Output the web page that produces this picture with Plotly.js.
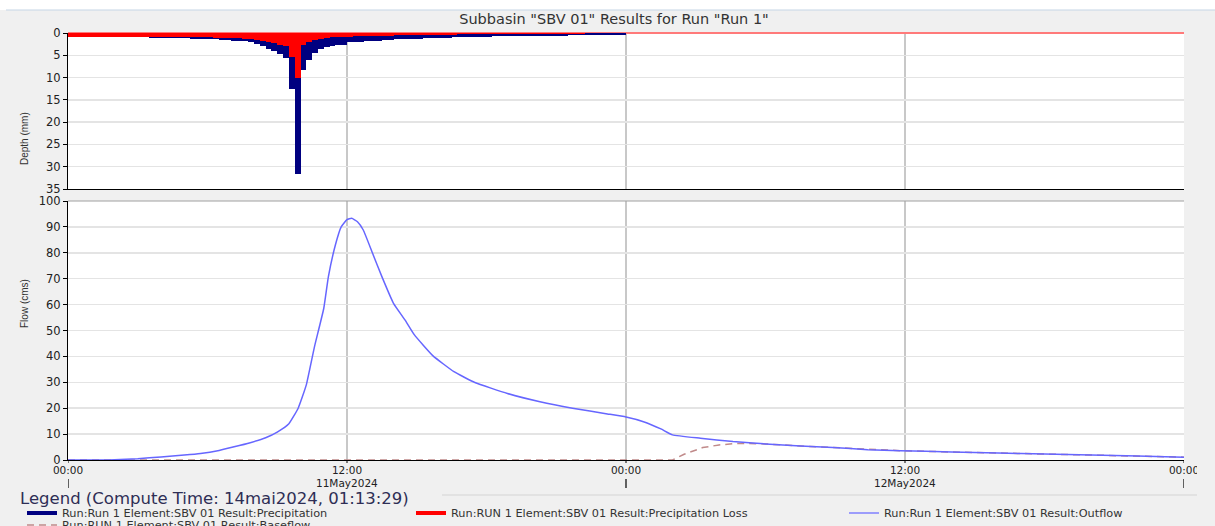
<!DOCTYPE html>
<html>
<head>
<meta charset="utf-8">
<script src="https://cdn.plot.ly/plotly-3.0.1.min.js"></script>
<style>
  html, body { margin: 0; padding: 0; background: #f0f0f0; }
  #chart { width: 1215px; height: 526px; }
</style>
</head>
<body>
<div id="chart"></div>
<script>
// ---------- DATA ----------
const chartTitle = 'Subbasin "SBV 01" Results for Run "Run 1"';
const startDate = [2024, 4, 11];      // 11 May 2024 00:00
const stepMinutes = 15;               // hyetograph interval

// Precipitation depth per 15-min interval (mm), 11May2024 00:00 -> 12May2024 00:00
const precipitation = [
  0.85,0.85,0.85,0.85,0.85,0.85,0.85,0.85,0.85,0.85,0.85,
  0.95,1.0,1.0,
  1.05,1.05,1.1,1.1,1.15,1.15,
  1.2,1.25,1.25,1.3,
  1.4,1.45,1.55,1.65,
  1.75,1.8,1.85,1.95,
  2.4,2.9,3.5,4.1,4.8,5.6,12.5,31.6,8.3,6.1,4.4,3.6,3.2,2.9,2.8,2.6,
  2.1,2.0,1.95,1.9,1.85,1.8,
  1.6,1.5,1.45,1.4,1.35,1.3,1.25,
  1.2,1.15,1.1,1.1,1.05,1.0,
  0.95,0.95,0.9,0.9,0.85,
  0.8,0.78,0.75,0.72,0.7,0.68,0.66,0.64,0.62,
  0.6,0.6,0.58,0.57,0.56,0.55,0.54,0.53,0.52,0.51,0.5,0.49,0.48,0.47,
  0.35
];

// Precipitation loss per 15-min interval (mm)
const precipitationLoss = [
  0.85,0.85,0.85,0.85,0.85,0.85,0.85,0.85,0.85,0.85,0.85,
  0.85,0.87,0.88,
  0.88,0.9,0.9,0.92,0.92,0.94,
  0.95,0.96,0.97,0.98,
  1.0,1.02,1.05,1.1,
  1.15,1.2,1.3,1.4,
  1.6,1.8,2.0,2.3,2.6,2.9,5.3,10.0,2.6,2.0,1.6,1.3,1.1,1.0,0.95,0.9,
  0.8,0.75,0.72,0.7,0.68,0.65,
  0.6,0.58,0.55,0.52,0.5,0.48,0.46,
  0.44,0.42,0.4,0.38,0.36,0.35,
  0.33,0.32,0.3,0.29,0.28,
  0.26,0.25,0.24,0.23,0.22,0.21,0.2,0.19,0.18,
  0.17,0.16,0.15,0.15,0.14,0.13,0.12,0.12,0.11,0.1,0.1,0.09,0.09,0.08,
  0.05
];

// Outflow (cms), time in hours since 11May2024 00:00
const outflowHours = [0,1.5,2,3,4,5,5.7,6.5,7.1,7.8,8.5,9.0,9.5,9.9,10.25,10.6,11.0,11.2,11.5,11.75,12.0,12.2,12.45,12.7,13.1,13.5,14.0,14.5,14.9,15.7,16.6,17.5,18.9,20.3,21.7,23.2,24.0,24.75,25.5,26.0,27.2,28.6,30.0,31.5,32.9,34.4,35.8,38,40,42,44,46,48];
const outflowValues = [0,0,0.1,0.5,1.2,1.9,2.5,3.7,5.0,6.6,8.6,10.8,14.0,20.0,29.0,43.7,58.5,70.8,83.0,90.0,92.8,93.3,92.0,88.8,79.8,70.8,60.5,54.0,48.3,40.2,34.1,29.9,25.7,22.5,20.0,17.8,16.6,14.8,12.0,9.7,8.4,7.1,6.2,5.4,4.8,4.0,3.6,3.1,2.7,2.3,1.9,1.5,1.1];

// Baseflow (cms)
const baseflowHours = [0,26.0,26.5,27.3,28.0,28.6,29.3,30.0,31.5,32.9,34.4,35.8,38,40,42,44,46,48];
const baseflowValues = [0,0,2.2,4.8,5.8,6.3,6.4,6.2,5.4,4.8,4.0,3.6,3.1,2.7,2.3,1.9,1.5,1.1];

// X axis ticks
const tickHours = [0, 12, 24, 36, 48];
const tickLabels = ['00:00', '12:00', '00:00', '12:00', '00:00'];
const dateLabelHours = [12, 36];
const dateLabels = ['11May2024', '12May2024'];
const dayBoundaryHours = [0, 24, 48];

const seriesNames = {
  precip: 'Run:Run 1 Element:SBV 01 Result:Precipitation',
  loss: 'Run:RUN 1 Element:SBV 01 Result:Precipitation Loss',
  outflow: 'Run:Run 1 Element:SBV 01 Result:Outflow',
  baseflow: 'Run:RUN 1 Element:SBV 01 Result:Baseflow'
};
const legendTitle = 'Legend (Compute Time: 14mai2024, 01:13:29)';

// ---------- HELPERS ----------
const baseMs = Date.UTC(startDate[0], startDate[1], startDate[2]);
function hToDate(h) {
  return new Date(baseMs + h * 3600000).toISOString().replace('T', ' ').slice(0, 19);
}
const stepH = stepMinutes / 60;
const barX = precipitation.map((_, k) => hToDate((k + 0.5) * stepH));
const barWidth = stepMinutes * 60000;

// pixel -> paper helpers (plot area 68..1184 x 33..460)
const L = 68, R = 1184, T = 33, B = 460;
const px = x => (x - L) / (R - L);
const py = y => (B - y) / (B - T);

const FONT = 'DejaVu Sans, Verdana, sans-serif';
const NAVY = '#000080', RED = '#ff0000', BLUE = '#6666ff', BROWN = '#c08a8a';

// ---------- TRACES ----------
const traces = [
  { type: 'bar', x: barX, y: precipitation, width: barWidth, xaxis: 'x', yaxis: 'y',
    marker: { color: NAVY, line: { width: 0 } }, name: seriesNames.precip, showlegend: false, hoverinfo: 'x+y' },
  { type: 'bar', x: barX, y: precipitationLoss, width: barWidth, xaxis: 'x', yaxis: 'y',
    marker: { color: RED, line: { width: 0 } }, name: seriesNames.loss, showlegend: false, hoverinfo: 'x+y' },
  { type: 'scatter', mode: 'lines', x: baseflowHours.map(hToDate), y: baseflowValues, xaxis: 'x2', yaxis: 'y2',
    line: { color: BROWN, width: 1.5, dash: '7px,5px' }, name: seriesNames.baseflow, showlegend: false },
  { type: 'scatter', mode: 'lines', x: outflowHours.map(hToDate), y: outflowValues, xaxis: 'x2', yaxis: 'y2',
    line: { color: BLUE, width: 1.5, shape: 'spline', smoothing: 0.4 }, name: seriesNames.outflow, showlegend: false },
  // legend entries (line samples as in the original legend)
  { type: 'scatter', mode: 'lines', x: [null], y: [null], xaxis: 'x2', yaxis: 'y2', legend: 'legend',
    line: { color: NAVY, width: 4 }, name: seriesNames.precip, hoverinfo: 'skip' },
  { type: 'scatter', mode: 'lines', x: [null], y: [null], xaxis: 'x2', yaxis: 'y2', legend: 'legend2',
    line: { color: RED, width: 4 }, name: seriesNames.loss, hoverinfo: 'skip' },
  { type: 'scatter', mode: 'lines', x: [null], y: [null], xaxis: 'x2', yaxis: 'y2', legend: 'legend3',
    line: { color: '#8080ff', width: 1.5 }, name: seriesNames.outflow, hoverinfo: 'skip' },
  { type: 'scatter', mode: 'lines', x: [null], y: [null], xaxis: 'x2', yaxis: 'y2', legend: 'legend4',
    line: { color: BROWN, width: 1.5, dash: '7px,5px' }, name: seriesNames.baseflow, hoverinfo: 'skip' }
];

const xRange = [hToDate(0), hToDate(48)];
const tickFont = { family: FONT, size: 11.5, color: '#222' };
const xTickFont = { family: FONT, size: 10.5, color: '#222' };
const gridV = '#c8c8c8', gridH = '#e4e4e4';

function legendAt(xPix, yPix) {
  return { x: px(xPix), y: py(yPix), xanchor: 'left', yanchor: 'middle', orientation: 'v',
    bgcolor: 'rgba(0,0,0,0)', borderwidth: 0, font: { family: FONT, size: 11.3, color: '#333' } };
}

const layout = {
  width: 1215, height: 526,
  margin: { l: L, r: 1215 - R, t: T, b: 526 - B, pad: 0, autoexpand: false },
  paper_bgcolor: '#f0f0f0', plot_bgcolor: '#ffffff',
  barmode: 'overlay', bargap: 0,
  title: { text: chartTitle, font: { family: FONT, size: 14.5, color: '#333' },
           x: 614 / 1215, xref: 'container', xanchor: 'center', y: 1 - 19 / 526, yanchor: 'middle' },
  xaxis: { type: 'date', domain: [0, 1], anchor: 'y', range: xRange,
    tickvals: tickHours.map(hToDate), showticklabels: false, ticks: '',
    showgrid: true, gridcolor: gridV, gridwidth: 1.5, showline: true, linecolor: '#000', linewidth: 1,
    zeroline: false, fixedrange: true },
  yaxis: { domain: [py(189), 1], anchor: 'x', range: [35, 0], dtick: 5, tick0: 0,
    ticks: 'outside', ticklen: 4, tickcolor: '#000', tickfont: tickFont,
    showgrid: true, gridcolor: gridH, gridwidth: 1.5, showline: true, linecolor: '#000', linewidth: 1,
    zeroline: true, zerolinecolor: '#ff7a7a', zerolinewidth: 1.5, fixedrange: true },
  xaxis2: { type: 'date', domain: [0, 1], anchor: 'y2', range: xRange,
    tickvals: tickHours.map(hToDate), ticktext: tickLabels, tickfont: xTickFont,
    ticks: '', ticklen: 0,
    showgrid: true, gridcolor: gridV, gridwidth: 1.5, showline: true, linecolor: '#000', linewidth: 1,
    zeroline: false, fixedrange: true },
  yaxis2: { domain: [0, py(201)], anchor: 'x2', range: [0, 100], dtick: 10, tick0: 0,
    ticks: 'outside', ticklen: 4, tickcolor: '#000', tickfont: tickFont,
    showgrid: true, gridcolor: gridH, gridwidth: 1.5, showline: true, linecolor: '#000', linewidth: 1,
    zeroline: false, fixedrange: true },
  showlegend: true,
  legend: legendAt(22, 513),
  legend2: legendAt(411, 513),
  legend3: legendAt(844, 513),
  legend4: legendAt(22, 525),
  annotations: [
    { text: 'Depth (mm)', xref: 'paper', yref: 'paper', x: px(17), y: py(110), showarrow: false,
      textangle: -90, font: { family: 'Liberation Sans Narrow, Liberation Sans, Arial', size: 10, color: '#333' } },
    { text: 'Flow (cms)', xref: 'paper', yref: 'paper', x: px(17), y: py(330), showarrow: false,
      textangle: -90, font: { family: 'Liberation Sans Narrow, Liberation Sans, Arial', size: 10, color: '#333' } },
    { text: legendTitle, xref: 'paper', yref: 'paper', x: px(18), y: py(498), xanchor: 'left', yanchor: 'middle',
      showarrow: false, font: { family: FONT, size: 16.5, color: '#2e2e55' } },
    ...dateLabelHours.map((h, i) => ({ text: dateLabels[i], xref: 'x2', yref: 'paper', x: hToDate(h), y: py(482.5),
      xanchor: 'center', yanchor: 'middle', showarrow: false, font: { family: FONT, size: 10.5, color: '#222' } }))
  ],
  shapes: [
    // white strip at the top of the window
    { type: 'rect', xref: 'paper', yref: 'paper', x0: px(0), x1: px(1215), y0: py(10), y1: py(0),
      fillcolor: '#ffffff', line: { width: 0 }, layer: 'below' },
    { type: 'line', xref: 'paper', yref: 'paper', x0: px(6), x1: px(1215), y0: py(10), y1: py(10),
      line: { color: '#c5d5e5', width: 1 } },
    // top border of flow panel
    { type: 'line', xref: 'x2 domain', yref: 'y2 domain', x0: 0, x1: 1, y0: 1, y1: 1,
      line: { color: '#a0a0a0', width: 1 } },
    // legend group border
    { type: 'line', xref: 'paper', yref: 'paper', x0: px(442), x1: px(1200), y0: py(495), y1: py(495),
      line: { color: '#d4d4d4', width: 1 } },
    // small axis ticks and day boundary ticks below the labels
    ...tickHours.map(h => ({ type: 'line', xref: 'x2', yref: 'paper',
      x0: hToDate(h), x1: hToDate(h), y0: py(460), y1: py(463), line: { color: '#000', width: 1 } })),
    ...dayBoundaryHours.map(h => ({ type: 'line', xref: 'x2', yref: 'paper',
      x0: hToDate(h), x1: hToDate(h), y0: py(479), y1: py(488), line: { color: '#000', width: 1.2 } })),
    // window clip on the right
    { type: 'rect', xref: 'paper', yref: 'paper', x0: px(1197), x1: px(1215), y0: py(526), y1: py(466),
      fillcolor: '#f0f0f0', line: { width: 0 }, layer: 'above' }
  ]
};

Plotly.newPlot('chart', traces, layout, { displayModeBar: false, staticPlot: true });
</script>
</body>
</html>
